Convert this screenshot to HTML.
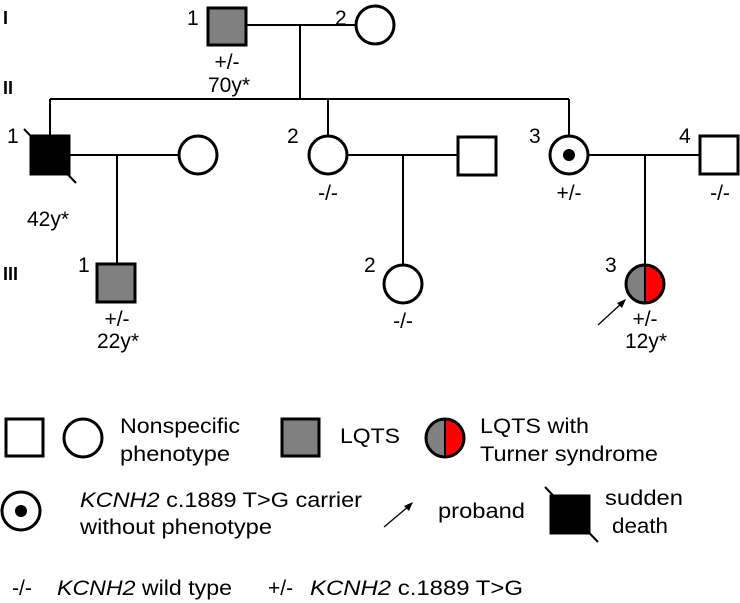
<!DOCTYPE html><html><head><style>body{margin:0;background:#fff}svg{display:block}text{font-family:"Liberation Sans",sans-serif;font-size:21px;fill:#000}.b{font-weight:bold;font-size:18px}</style></head><body>
<svg width="740" height="603" viewBox="0 0 740 603" xmlns="http://www.w3.org/2000/svg">
<g stroke="#000" stroke-width="2" fill="none">
<line x1="246" y1="25" x2="356" y2="25"/><line x1="300" y1="25" x2="300" y2="99"/>
<line x1="50" y1="99" x2="569" y2="99"/>
<line x1="50" y1="99" x2="50" y2="136"/><line x1="328" y1="99" x2="328" y2="136"/><line x1="569" y1="99" x2="569" y2="136"/>
<line x1="69" y1="155" x2="179" y2="155"/><line x1="117" y1="155" x2="117" y2="264"/>
<line x1="347" y1="155" x2="458" y2="155"/><line x1="403" y1="155" x2="403" y2="265"/>
<line x1="588" y1="155" x2="700" y2="155"/><line x1="645" y1="155" x2="645" y2="265"/>
</g>
<g stroke="#000" stroke-width="3">
<rect x="208" y="8" width="38" height="37" fill="#808080"/>
<circle cx="375" cy="25" r="19" fill="#fff"/>
<rect x="31" y="136" width="38" height="38" fill="#000"/>
<circle cx="198" cy="155" r="19" fill="#fff"/>
<circle cx="328" cy="155" r="19" fill="#fff"/>
<rect x="458" y="137" width="38" height="38" fill="#fff"/>
<circle cx="569" cy="155" r="19" fill="#fff"/>
<rect x="700" y="136" width="38" height="38" fill="#fff"/>
<rect x="97" y="264" width="38" height="38" fill="#808080"/>
<circle cx="403" cy="284" r="19" fill="#fff"/>
</g>
<line x1="24" y1="129" x2="76" y2="183" stroke="#000" stroke-width="2"/>
<circle cx="569" cy="155" r="6" fill="#000"/>
<path d="M645 265 A19 19 0 0 0 645 303 Z" fill="#808080"/><path d="M645 265 A19 19 0 0 1 645 303 Z" fill="#f00"/>
<circle cx="645" cy="284" r="19" fill="none" stroke="#000" stroke-width="3"/><line x1="645" y1="265" x2="645" y2="303" stroke="#000" stroke-width="2"/>
<line x1="598" y1="325" x2="622" y2="303" stroke="#000" stroke-width="1.3"/><path d="M626 299 L617 303 L622 308 Z" fill="#000"/>
<text x="3" y="24" class="b">I</text><text x="3" y="94" class="b">II</text><text x="3" y="280" class="b">III</text>
<text x="187" y="25">1</text><text x="335" y="25">2</text>
<text x="227" y="69" text-anchor="middle">+/-</text><text x="229" y="92" text-anchor="middle">70y*</text>
<text x="7" y="143">1</text><text x="48" y="226" text-anchor="middle">42y*</text>
<text x="287" y="143">2</text><text x="328" y="200" text-anchor="middle">-/-</text>
<text x="529" y="143">3</text><text x="569" y="200" text-anchor="middle">+/-</text>
<text x="679" y="143">4</text><text x="720" y="200" text-anchor="middle">-/-</text>
<text x="78" y="272">1</text><text x="117" y="326" text-anchor="middle">+/-</text><text x="118" y="348" text-anchor="middle">22y*</text>
<text x="364" y="272">2</text><text x="403" y="328" text-anchor="middle">-/-</text>
<text x="605" y="272">3</text><text x="645" y="326" text-anchor="middle">+/-</text><text x="646" y="348" text-anchor="middle">12y*</text>
<g stroke="#000" stroke-width="3">
<rect x="6" y="419" width="37" height="37" fill="#fff"/>
<ellipse cx="83" cy="438" rx="19" ry="19" fill="#fff"/>
<rect x="282" y="419" width="37" height="37" fill="#808080"/>
<rect x="551" y="496" width="38" height="37" fill="#000"/>
</g>
<line x1="545" y1="487" x2="598" y2="542" stroke="#000" stroke-width="2"/>
<path d="M445 419 A19 19 0 0 0 445 457 Z" fill="#808080"/><path d="M445 419 A19 19 0 0 1 445 457 Z" fill="#f00"/>
<circle cx="445" cy="438" r="19" fill="none" stroke="#000" stroke-width="3"/><line x1="445" y1="419" x2="445" y2="457" stroke="#000" stroke-width="2"/>
<circle cx="21" cy="511" r="19" fill="#fff" stroke="#000" stroke-width="3"/><circle cx="21" cy="511" r="6" fill="#000"/>
<line x1="384" y1="527" x2="409" y2="506" stroke="#000" stroke-width="1.3"/><path d="M413 502 L404 506 L409 511 Z" fill="#000"/>
<text x="120" y="433" textLength="120" lengthAdjust="spacingAndGlyphs">Nonspecific</text><text x="120" y="461" textLength="110" lengthAdjust="spacingAndGlyphs">phenotype</text>
<text x="340" y="443" textLength="60" lengthAdjust="spacingAndGlyphs">LQTS</text>
<text x="480" y="433" textLength="109" lengthAdjust="spacingAndGlyphs">LQTS with</text><text x="480" y="461" textLength="178" lengthAdjust="spacingAndGlyphs">Turner syndrome</text>
<text x="80" y="507" textLength="282" lengthAdjust="spacingAndGlyphs"><tspan font-style="italic">KCNH2</tspan> c.1889 T&gt;G carrier</text>
<text x="80" y="534" textLength="192" lengthAdjust="spacingAndGlyphs">without phenotype</text>
<text x="438" y="518" textLength="87" lengthAdjust="spacingAndGlyphs">proband</text>
<text x="605" y="505" textLength="78" lengthAdjust="spacingAndGlyphs">sudden</text><text x="612" y="533" textLength="56" lengthAdjust="spacingAndGlyphs">death</text>
<text x="12" y="595">-/-</text>
<text x="57" y="595" textLength="175" lengthAdjust="spacingAndGlyphs"><tspan font-style="italic">KCNH2</tspan> wild type</text>
<text x="268" y="595">+/-</text>
<text x="310" y="595" textLength="213" lengthAdjust="spacingAndGlyphs"><tspan font-style="italic">KCNH2</tspan> c.1889 T&gt;G</text>
</svg></body></html>
